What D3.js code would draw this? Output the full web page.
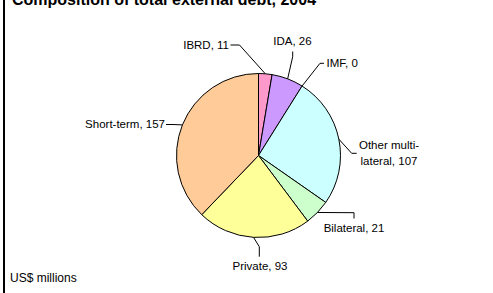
<!DOCTYPE html>
<html>
<head>
<meta charset="utf-8">
<script src="https://cdn.jsdelivr.net/npm/d3@7"></script>
<style>
	body { margin: 0; background: #fff; }
	svg { display: block; }
	text { font-family: Arial, "Liberation Sans", sans-serif; fill: #000; }
</style>
</head>
<body>
<div id="graph"></div>
<script>
"use strict";
let width = 493;
let height = 293;

// chart data
let categories = ["IBRD", "IDA", "IMF", "Other multi-lateral", "Bilateral", "Private", "Short-term"];
let values = [11, 26, 0, 107, 21, 93, 157];
let labelLines = [["IBRD, 11"], ["IDA, 26"], ["IMF, 0"], ["Other multi-", "lateral, 107"], ["Bilateral, 21"], ["Private, 93"], ["Short-term, 157"]];
let colors = ["#ff99cc", "#cc99ff", "#ccffff", "#ccffff", "#ccffcc", "#ffff99", "#ffcc99"];

let title = "Composition of total external debt, 2004";
let unitNote = "US$ millions";

// where each label sits and how its leader line bends (x, y in page pixels)
let labelLayout = {
	"IBRD": { x: 229, y: 49, anchor: "end", bend: [[239.5, 45], [230.5, 45]] },
	"IDA": { x: 292.5, y: 45, anchor: "middle", bend: [[292.7, 56.7], [292.7, 51.5]] },
	"IMF": { x: 326.5, y: 67, anchor: "start", bend: [[320, 63.3], [324, 63.3]] },
	"Other multi-lateral": { x: 389, y: 149, anchor: "middle", bend: [[351.7, 153.3], [356.7, 153.3]] },
	"Bilateral": { x: 354, y: 231.5, anchor: "middle", bend: [[354, 212.7], [354, 218.5]] },
	"Private": { x: 260, y: 269.5, anchor: "middle", bend: [[259.3, 246.7], [259.3, 256.7]] },
	"Short-term": { x: 165, y: 128, anchor: "end", bend: [[173, 124.5], [166, 124.5]] }
};

let cx = 258.5;
let cy = 155.5;
let radius = 82;

let svg = d3.select("#graph")
	.append("svg")
	.attr("width", width)
	.attr("height", height);

// left frame line
svg.append("rect")
	.attr("x", 3)
	.attr("y", 0)
	.attr("width", 2)
	.attr("height", height)
	.attr("fill", "#000");

svg.append("text")
	.attr("x", 12)
	.attr("y", 4.5)
	.style("font-size", "16px")
	.style("font-weight", "bold")
	.text(title);

svg.append("text")
	.attr("x", 10)
	.attr("y", 282)
	.style("font-size", "12px")
	.text(unitNote);

let rows = categories.map(function(c, i)
{
	return { name: c, value: values[i], color: colors[i], lines: labelLines[i] };
});

let pie = d3.pie()
	.sort(null)
	.value(function(d) { return d.value; });

let arc = d3.arc()
	.innerRadius(0)
	.outerRadius(radius);

let arcs = pie(rows);

let g = svg.append("g")
	.attr("transform", "translate(" + cx + "," + cy + ")");

g.selectAll(".slice")
	.data(arcs.filter(function(d) { return d.data.value > 0; }))
	.enter().append("path")
	.attr("class", "slice")
	.attr("d", arc)
	.attr("fill", function(d) { return d.data.color; })
	.attr("stroke", "#000")
	.attr("stroke-width", 1)
	.attr("stroke-linejoin", "round");

// leader lines start on the rim at each slice's middle angle
let line = d3.line();
svg.selectAll(".leader")
	.data(arcs)
	.enter().append("path")
	.attr("class", "leader")
	.attr("fill", "none")
	.attr("stroke", "#000")
	.attr("stroke-width", 1)
	.attr("d", function(d)
	{
		let a = (d.startAngle + d.endAngle) / 2;
		let start = [cx + radius * Math.sin(a), cy - radius * Math.cos(a)];
		let pts = [start].concat(labelLayout[d.data.name].bend);
		return line(pts);
	});

svg.selectAll(".label")
	.data(arcs)
	.enter().append("text")
	.attr("class", "label")
	.attr("x", function(d) { return labelLayout[d.data.name].x; })
	.attr("y", function(d) { return labelLayout[d.data.name].y; })
	.attr("text-anchor", function(d) { return labelLayout[d.data.name].anchor; })
	.style("font-size", "11.5px")
	.each(function(d)
	{
		let t = d3.select(this);
		let lay = labelLayout[d.data.name];
		d.data.lines.forEach(function(s, k)
		{
			t.append("tspan")
				.attr("x", lay.x)
				.attr("dy", k === 0 ? 0 : 15.5)
				.text(s);
		});
	});
</script>
</body>
</html>
